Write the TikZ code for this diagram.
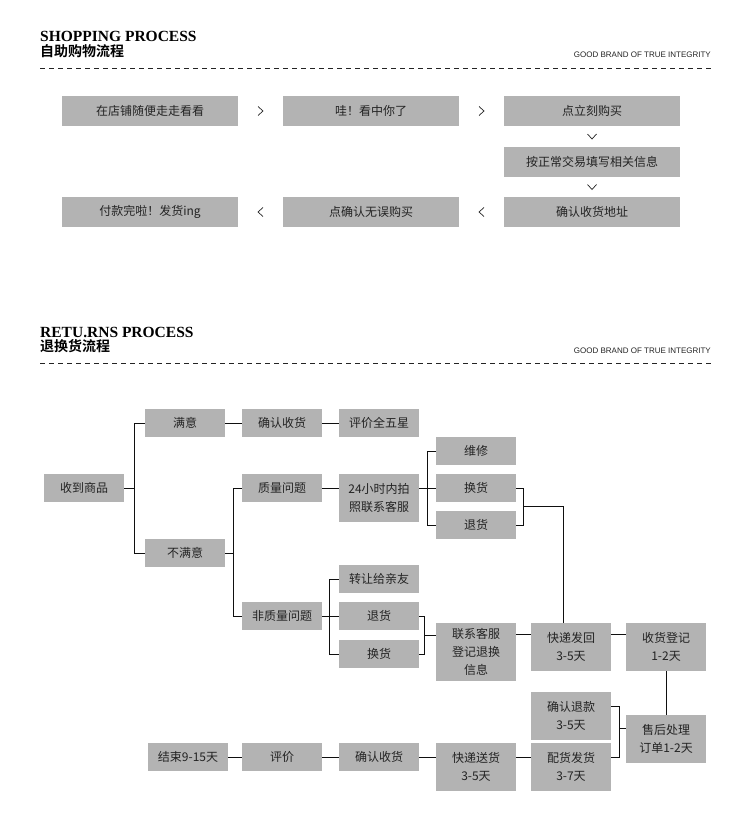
\documentclass[tikz,border=0pt]{standalone}
\usepackage{fontspec}
\usepackage{tikz}
\usetikzlibrary{positioning, calc}
\setmainfont{Noto Sans CJK SC}[BoldFont={Noto Sans CJK SC Bold}]
\newfontfamily\headfont{Liberation Serif}
\newfontfamily\tagfont{Liberation Sans}
\definecolor{BoxGray}{RGB}{179,179,179}
\definecolor{TextDark}{RGB}{35,35,35}
\definecolor{LineDark}{RGB}{15,15,15}

\begin{document}
\begin{tikzpicture}[x=1pt, y=-1pt,
          box/.style={rectangle, fill=BoxGray, minimum width=80pt, minimum height=28pt,
                      inner sep=0pt, align=center, text=TextDark, font=\fontsize{12}{18}\selectfont},
          wbox/.style={box, minimum width=176pt, minimum height=30pt},
          tall/.style={minimum height=48pt},
          taller/.style={minimum height=58pt},
          link/.style={draw=LineDark, line width=1pt},
          chev/.style={draw=TextDark, line width=0.7pt},
          headen/.style={inner sep=0pt, font=\headfont\bfseries\fontsize{15.5}{15.5}\selectfont},
          headcn/.style={inner sep=0pt, font=\bfseries\fontsize{14}{14}\selectfont},
          tagline/.style={inner sep=0pt, text=TextDark, font=\tagfont\fontsize{8}{8}\selectfont},
          dashline/.style={draw=TextDark, line width=0.9pt, dash pattern=on 5pt off 4pt}
        ]
        \useasboundingbox (0,0) rectangle (750,816);

        % shopping header
        \node[headen, anchor=base west]  (shopen)  at (40,42)  {SHOPPING PROCESS};
        \node[headcn, anchor=north west] (shopcn)  at (40,44)  {自助购物流程};
        \node[tagline, anchor=base east] (shoptag) at (711,58) {GOOD BRAND OF TRUE INTEGRITY};
        \draw[dashline] (40,68) -- (711,68);

        % shopping steps
        \node[wbox] (s1) at (150,111) {在店铺随便走走看看};
        \node[wbox] (s2) at (371,111) {哇！看中你了};
        \node[wbox] (s3) at (592,111) {点立刻购买};
        \node[wbox] (s4) at (592,162) {按正常交易填写相关信息};
        \node[wbox] (s5) at (592,212) {确认收货地址};
        \node[wbox] (s6) at (371,212) {点确认无误购买};
        \node[wbox] (s7) at (150,212) {付款完啦！发货ing};

        \draw[chev] ($(s1.east)!.5!(s2.west)$) ++(-2.5,-4.5) -- ++(5,4.5) -- ++(-5,4.5);
        \draw[chev] ($(s2.east)!.5!(s3.west)$) ++(-2.5,-4.5) -- ++(5,4.5) -- ++(-5,4.5);
        \draw[chev] ($(s3.south)!.5!(s4.north)$) ++(-4.5,-2.5) -- ++(4.5,5) -- ++(4.5,-5);
        \draw[chev] ($(s4.south)!.5!(s5.north)$) ++(-4.5,-2.5) -- ++(4.5,5) -- ++(4.5,-5);
        \draw[chev] ($(s5.west)!.5!(s6.east)$) ++(2.5,-4.5) -- ++(-5,4.5) -- ++(5,4.5);
        \draw[chev] ($(s6.west)!.5!(s7.east)$) ++(2.5,-4.5) -- ++(-5,4.5) -- ++(5,4.5);

        % returns header
        \node[headen, anchor=base west]  (reten)  at (40,337) {RETU.RNS PROCESS};
        \node[headcn, anchor=north west] (retcn)  at (40,339) {退换货流程};
        \node[tagline, anchor=base east] (rettag) at (711,353) {GOOD BRAND OF TRUE INTEGRITY};
        \draw[dashline] (40,363) -- (711,363);

        % returns tree
        \node[box] (recv)   at (84,488)  {收到商品};
        \node[box] (sat)    at (185,423) {满意};
        \node[box] (unsat)  at (185,553) {不满意};
        \node[box] (conf1)  at (282,423) {确认收货};
        \node[box] (star)   at (379,423) {评价全五星};
        \node[box] (qual)   at (282,488) {质量问题};
        \node[box, tall] (photo) at (379,498) {24小时内拍\\照联系客服};
        \node[box] (fix)    at (476,451) {维修};
        \node[box] (exch1)  at (476,488) {换货};
        \node[box] (ret1)   at (476,525) {退货};
        \node[box] (nonq)   at (282,616) {非质量问题};
        \node[box] (gift)   at (379,579) {转让给亲友};
        \node[box] (ret2)   at (379,616) {退货};
        \node[box] (exch2)  at (379,654) {换货};
        \node[box, taller] (cs)  at (476,652) {联系客服\\登记退换\\信息};
        \node[box, tall] (back)  at (571,647) {快递发回\\3-5天};
        \node[box, tall] (reg)   at (666,647) {收货登记\\1-2天};
        \node[box, tall] (after) at (666,739) {售后处理\\订单1-2天};
        \node[box, tall] (refund) at (571,716) {确认退款\\3-5天};
        \node[box, tall] (ship)  at (571,767) {配货发货\\3-7天};
        \node[box, tall] (deliv) at (476,767) {快递送货\\3-5天};
        \node[box] (conf2)  at (379,757) {确认收货};
        \node[box] (rate)   at (282,757) {评价};
        \node[box] (done)   at (188,757) {结束9-15天};

        \draw[link] (recv.east) -- ++(11,0);
        \draw[link] (sat.west) -- ++(-10,0) |- (unsat.west);
        \draw[link] (sat) -- (conf1);
        \draw[link] (conf1) -- (star);
        \draw[link] (unsat.east) -- ++(9,0);
        \draw[link] (qual.west) -- ++(-8,0) |- (nonq.west);
        \draw[link] (qual.east) -- (qual.east -| photo.west);
        \draw[link] (photo.east |- exch1.west) -- (exch1.west);
        \draw[link] (fix.west) -- ++(-8,0) |- (ret1.west);
        \draw[link] (exch1.east) -- ++(7,0) |- (ret1.east);
        \coordinate (backjoin) at ($(exch1.east)!.5!(ret1.east) + (7,0)$);
        \draw[link] (backjoin) -| ([xshift=-8pt]back.north);

        \draw[link] (nonq.east) -- (ret2.west);
        \draw[link] (gift.west) -- ++(-9,0) |- (exch2.west);
        \draw[link] (ret2.east) -- ++(5,0) |- (exch2.east);
        \coordinate (csjoin) at ($(ret2.east)!.5!(exch2.east) + (5,0)$);
        \draw[link] (csjoin) -- (csjoin -| cs.west);
        \draw[link] ([yshift=18pt]cs.east) -- ([yshift=18pt]cs.east -| back.west);
        \draw[link] ([yshift=13pt]back.east) -- ([yshift=13pt]back.east -| reg.west);
        \draw[link] (reg.south) -- (after.north);

        \draw[link] ([yshift=10pt]refund.east) -- ++(8,0) |- ([yshift=10pt]ship.east);
        \draw[link] ([yshift=11pt]after.west) -- ++(-7,0);
        \draw[link] ([yshift=10pt]ship.west) -- ([yshift=10pt]deliv.east);
        \draw[link] (conf2.east) -- (conf2.east -| deliv.west);
        \draw[link] (rate) -- (conf2);
        \draw[link] (done) -- (rate);
      \end{tikzpicture}
\end{document}
